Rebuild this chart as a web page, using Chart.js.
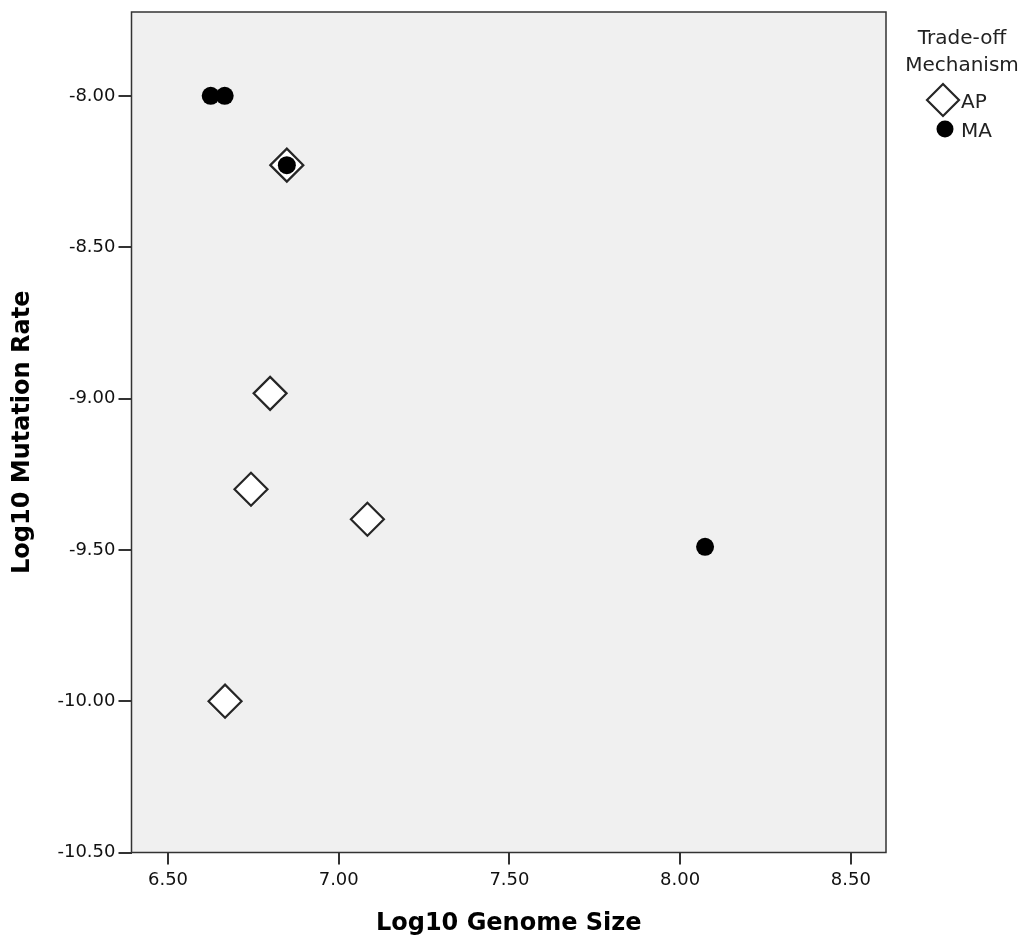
<!DOCTYPE html>
<html><head><meta charset="utf-8">
<script src="https://cdn.jsdelivr.net/npm/chart.js@4/dist/chart.umd.min.js"></script>
<style>html,body{margin:0;padding:0;background:#fff;overflow:hidden;} canvas{display:block;}</style>
</head><body>
<canvas id="c" width="1030" height="941"></canvas>
<script>
// ---- data ----
const seriesNames = ['AP', 'MA'];
const apGenome = [6.848, 6.799, 6.743, 7.084, 6.667];
const apRate   = [-8.229, -8.983, -9.300, -9.399, -10.000];
const maGenome = [6.625, 6.666, 6.848, 8.073];
const maRate   = [-8.000, -8.000, -8.229, -9.490];
const xTicks = [6.5, 7.0, 7.5, 8.0, 8.5];
const yTicks = [-8.0, -8.5, -9.0, -9.5, -10.0, -10.5];
const legendTitle = ['Trade-off', 'Mechanism'];
const xTitle = 'Log10 Genome Size';
const yTitle = 'Log10 Mutation Rate';

const toPts = (xs, ys) => xs.map((x, i) => ({x: x, y: ys[i]}));

const FONT = 'DejaVu Sans';

const frameBg = {
  id: 'frameBg',
  beforeDraw(chart) {
    const {ctx, chartArea: a} = chart;
    ctx.save();
    ctx.fillStyle = '#f0f0f0';
    ctx.fillRect(a.left, a.top, a.right - a.left, a.bottom - a.top);
    ctx.restore();
  },
  afterDraw(chart) {
    const {ctx, chartArea: a} = chart;
    ctx.save();
    ctx.strokeStyle = '#333';
    ctx.lineWidth = 1.5;
    ctx.strokeRect(a.left, a.top, a.right - a.left, a.bottom - a.top);
    ctx.restore();
  }
};

const sideLegend = {
  id: 'sideLegend',
  afterDraw(chart) {
    const ctx = chart.ctx;
    ctx.save();
    ctx.fillStyle = '#222';
    ctx.textAlign = 'center';
    ctx.textBaseline = 'alphabetic';
    ctx.font = '20px "' + FONT + '"';
    ctx.fillText(legendTitle[0], 962, 44);
    ctx.fillText(legendTitle[1], 962, 71);
    const rows = [{cx: 943, cy: 100}, {cx: 945, cy: 129}];
    chart.data.datasets.forEach((ds, i) => {
      const r = rows[i];
      ctx.fillStyle = ds.pointBackgroundColor;
      ctx.strokeStyle = ds.pointBorderColor;
      ctx.lineWidth = ds.pointBorderWidth;
      const opts = {pointStyle: ds.pointStyle, radius: ds.legendRadius, rotation: 0, borderWidth: ds.pointBorderWidth};
      if (Chart.helpers && Chart.helpers.drawPoint) {
        Chart.helpers.drawPoint(ctx, opts, r.cx, r.cy);
      }
      ctx.fillStyle = '#222';
      ctx.textAlign = 'left';
      ctx.font = '20px "' + FONT + '"';
      ctx.fillText(ds.label, 961, r.cy + 7.5);
    });
    ctx.restore();
  }
};

new Chart(document.getElementById('c'), {
  type: 'scatter',
  data: {
    datasets: [
      {
        label: seriesNames[0],
        data: toPts(apGenome, apRate),
        pointStyle: 'rectRot',
        pointRadius: 16.5,
        pointHoverRadius: 16.5,
        legendRadius: 16,
        pointBackgroundColor: '#ffffff',
        pointBorderColor: '#262626',
        pointBorderWidth: 2.2,
        order: 1
      },
      {
        label: seriesNames[1],
        data: toPts(maGenome, maRate),
        pointStyle: 'circle',
        pointRadius: 9,
        pointHoverRadius: 9,
        legendRadius: 8.5,
        pointBackgroundColor: '#000000',
        pointBorderColor: '#000000',
        pointBorderWidth: 0,
        order: 0
      }
    ]
  },
  plugins: [frameBg, sideLegend],
  options: {
    responsive: false,
    devicePixelRatio: 1,
    animation: false,
    layout: {autoPadding: false, padding: {top: 12, right: 144, bottom: 0, left: 0}},
    plugins: {legend: {display: false}, tooltip: {enabled: false}},
    scales: {
      x: {
        type: 'linear',
        min: 6.393,
        max: 8.603,
        afterBuildTicks: s => { s.ticks = xTicks.map(v => ({value: v})); },
        afterFit: s => { s.height = 88.5; s.paddingLeft = 0; s.paddingRight = 0; },
        border: {display: false},
        grid: {drawOnChartArea: false, drawTicks: true, tickLength: 12, color: '#333', lineWidth: 2},
        ticks: {
          padding: 5,
          color: '#111',
          font: {family: FONT, size: 18},
          callback: v => Number(v).toFixed(2)
        },
        title: {
          display: true, text: xTitle, color: '#000',
          font: {family: FONT, size: 24, weight: 'bold'},
          padding: {top: 0, bottom: 2.6}
        }
      },
      y: {
        type: 'linear',
        min: -10.5,
        max: -7.723,
        afterBuildTicks: s => { s.ticks = yTicks.map(v => ({value: v})); },
        afterFit: s => { s.width = 131.5; s.paddingTop = 0; s.paddingBottom = 0; },
        border: {display: false},
        grid: {drawOnChartArea: false, drawTicks: true, tickLength: 13, color: '#333', lineWidth: 2},
        ticks: {
          padding: 3,
          color: '#111',
          font: {family: FONT, size: 18},
          callback: v => Number(v).toFixed(2)
        },
        title: {
          display: true, text: yTitle, color: '#000',
          font: {family: FONT, size: 24, weight: 'bold'},
          padding: {top: 8.6, bottom: 0}
        }
      }
    }
  }
});
</script>
</body></html>
